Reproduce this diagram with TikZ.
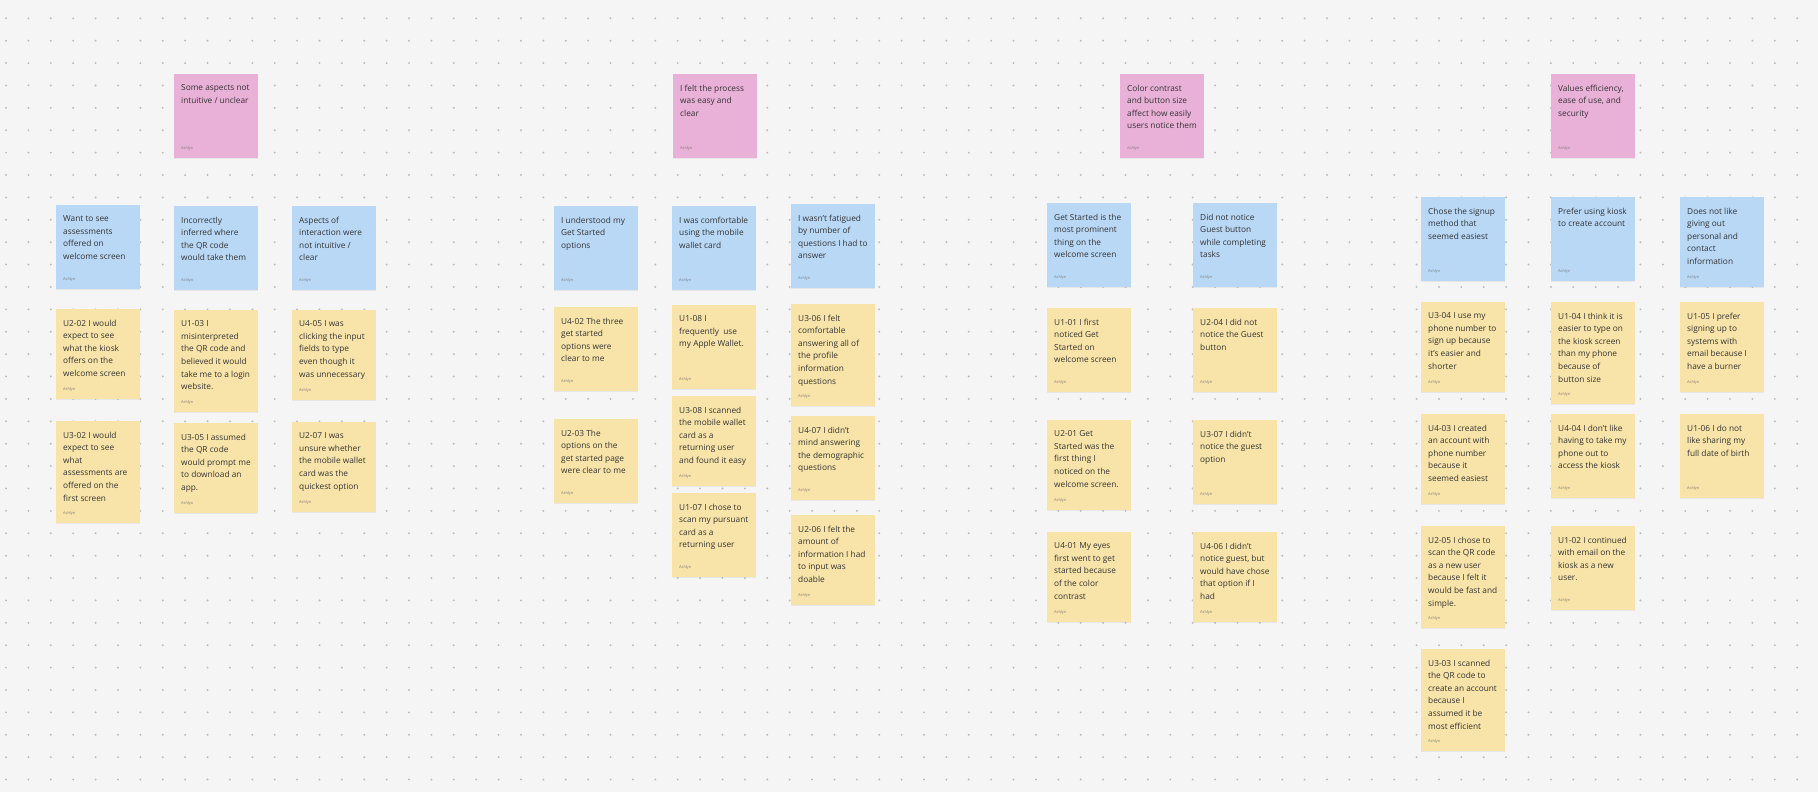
\documentclass[tikz,border=0pt]{standalone}
\usepackage{fontspec}
\setmainfont{Open Sans}
\usetikzlibrary{shadows}
\definecolor{board}{HTML}{F5F5F5}
\definecolor{griddot}{HTML}{BDBDBD}
\definecolor{pinkn}{HTML}{E9B0D8}
\definecolor{bluen}{HTML}{B9D8F6}
\definecolor{yeln}{HTML}{F8E4A9}
\definecolor{ink}{HTML}{333333}
\tikzset{
  note/.style    = {rectangle, anchor=north west, inner sep=0pt, minimum width=84pt,
                    minimum height=84pt,
                    drop shadow={shadow xshift=0pt, shadow yshift=-1.2pt, opacity=0.12}},
  theme/.style   = {note, fill=pinkn},
  insight/.style = {note, fill=bluen},
  quote/.style   = {note, fill=yeln},
  txt/.style     = {anchor=north west, xshift=7pt, yshift=-10.5pt, inner sep=0pt,
                    align=left, text=ink, font=\fontsize{8.3}{12.6}\selectfont},
  who/.style     = {anchor=west, xshift=7pt, yshift=10pt, inner sep=0pt,
                    text=black!50, font=\fontsize{3.9}{4.5}\selectfont},
}

\begin{document}
\begin{tikzpicture}[x=1pt,y=-1pt]
  \useasboundingbox (0,0) rectangle (1818,792);
  \fill[board] (0,0) rectangle (1818,792);
  \foreach \i in {0,...,81}
    \foreach \j in {0,...,34}
      \fill[griddot] (6+22.39*\i,18.3+22.39*\j) circle (1.1pt);

  % themes
  \node[theme] (asp) at (174,74) {};
  \node[txt] at (asp.north west) {Some aspects not\\intuitive / unclear};
  \node[who] at (asp.south west) {Ashlyn};
  \node[theme] (easy) at (673,74) {};
  \node[txt] at (easy.north west) {I felt the process\\was easy and\\clear};
  \node[who] at (easy.south west) {Ashlyn};
  \node[theme] (contr) at (1120,74) {};
  \node[txt] at (contr.north west) {Color contrast\\and button size\\affect how easily\\users notice them};
  \node[who] at (contr.south west) {Ashlyn};
  \node[theme] (effic) at (1551,74) {};
  \node[txt] at (effic.north west) {Values efficiency,\\ease of use, and\\security};
  \node[who] at (effic.south west) {Ashlyn};

  % insights
  \node[insight] (want) at (56,205) {};
  \node[txt] at (want.north west) {Want to see\\assessments\\offered on\\welcome screen};
  \node[who] at (want.south west) {Ashlyn};
  \node[insight] (inferred) at (174,206) {};
  \node[txt] at (inferred.north west) {Incorrectly\\inferred where\\the QR code\\would take them};
  \node[who] at (inferred.south west) {Ashlyn};
  \node[insight] (interact) at (292,206) {};
  \node[txt] at (interact.north west) {Aspects of\\interaction were\\not intuitive /\\clear};
  \node[who] at (interact.south west) {Ashlyn};
  \node[insight] (understood) at (554,206) {};
  \node[txt] at (understood.north west) {I understood my\\Get Started\\options};
  \node[who] at (understood.south west) {Ashlyn};
  \node[insight] (comfy) at (672,206) {};
  \node[txt] at (comfy.north west) {I was comfortable\\using the mobile\\wallet card};
  \node[who] at (comfy.south west) {Ashlyn};
  \node[insight] (fatigue) at (791,204) {};
  \node[txt] at (fatigue.north west) {I wasn't fatigued\\by number of\\questions I had to\\answer};
  \node[who] at (fatigue.south west) {Ashlyn};
  \node[insight] (prominent) at (1047,203) {};
  \node[txt] at (prominent.north west) {Get Started is the\\most prominent\\thing on the\\welcome screen};
  \node[who] at (prominent.south west) {Ashlyn};
  \node[insight] (guestbtn) at (1193,203) {};
  \node[txt] at (guestbtn.north west) {Did not notice\\Guest button\\while completing\\tasks};
  \node[who] at (guestbtn.south west) {Ashlyn};
  \node[insight] (signup) at (1421,197) {};
  \node[txt] at (signup.north west) {Chose the signup\\method that\\seemed easiest};
  \node[who] at (signup.south west) {Ashlyn};
  \node[insight] (kiosk) at (1551,197) {};
  \node[txt] at (kiosk.north west) {Prefer using kiosk\\to create account};
  \node[who] at (kiosk.south west) {Ashlyn};
  \node[insight, minimum height=90pt] (privacy) at (1680,197) {};
  \node[txt] at (privacy.north west) {Does not like\\giving out\\personal and\\contact\\information};
  \node[who] at (privacy.south west) {Ashlyn};

  % quotes
  \node[quote, minimum height=90pt] (u202) at (56,309) {};
  \node[txt] at (u202.north west) {U2-02 I would\\expect to see\\what the kiosk\\offers on the\\welcome screen};
  \node[who] at (u202.south west) {Ashlyn};
  \node[quote, minimum height=102pt] (u302) at (56,421) {};
  \node[txt] at (u302.north west) {U3-02 I would\\expect to see\\what\\assessments are\\offered on the\\first screen};
  \node[who] at (u302.south west) {Ashlyn};
  \node[quote, minimum height=102pt] (u103) at (174,310) {};
  \node[txt] at (u103.north west) {U1-03 I\\misinterpreted\\the QR code and\\believed it would\\take me to a login\\website.};
  \node[who] at (u103.south west) {Ashlyn};
  \node[quote, minimum height=90pt] (u305) at (174,423) {};
  \node[txt] at (u305.north west) {U3-05 I assumed\\the QR code\\would prompt me\\to download an\\app.};
  \node[who] at (u305.south west) {Ashlyn};
  \node[quote, minimum height=90pt] (u405) at (292,310) {};
  \node[txt] at (u405.north west) {U4-05 I was\\clicking the input\\fields to type\\even though it\\was unnecessary};
  \node[who] at (u405.south west) {Ashlyn};
  \node[quote, minimum height=90pt] (u207) at (292,422) {};
  \node[txt] at (u207.north west) {U2-07 I was\\unsure whether\\the mobile wallet\\card was the\\quickest option};
  \node[who] at (u207.south west) {Ashlyn};

  \node[quote] (u402) at (554,307) {};
  \node[txt] at (u402.north west) {U4-02 The three\\get started\\options were\\clear to me};
  \node[who] at (u402.south west) {Ashlyn};
  \node[quote] (u203) at (554,419) {};
  \node[txt] at (u203.north west) {U2-03 The\\options on the\\get started page\\were clear to me};
  \node[who] at (u203.south west) {Ashlyn};
  \node[quote] (u108) at (672,305) {};
  \node[txt] at (u108.north west) {U1-08 I\\frequently\ \ use\\my Apple Wallet.};
  \node[who] at (u108.south west) {Ashlyn};
  \node[quote, minimum height=90pt] (u308) at (672,396) {};
  \node[txt] at (u308.north west) {U3-08 I scanned\\the mobile wallet\\card as a\\returning user\\and found it easy};
  \node[who] at (u308.south west) {Ashlyn};
  \node[quote] (u107) at (672,493) {};
  \node[txt] at (u107.north west) {U1-07 I chose to\\scan my pursuant\\card as a\\returning user};
  \node[who] at (u107.south west) {Ashlyn};
  \node[quote, minimum height=102pt] (u306) at (791,304) {};
  \node[txt] at (u306.north west) {U3-06 I felt\\comfortable\\answering all of\\the profile\\information\\questions};
  \node[who] at (u306.south west) {Ashlyn};
  \node[quote] (u407) at (791,416) {};
  \node[txt] at (u407.north west) {U4-07 I didn't\\mind answering\\the demographic\\questions};
  \node[who] at (u407.south west) {Ashlyn};
  \node[quote, minimum height=90pt] (u206) at (791,515) {};
  \node[txt] at (u206.north west) {U2-06 I felt the\\amount of\\information I had\\to input was\\doable};
  \node[who] at (u206.south west) {Ashlyn};

  \node[quote] (u101) at (1047,308) {};
  \node[txt] at (u101.north west) {U1-01 I first\\noticed Get\\Started on\\welcome screen};
  \node[who] at (u101.south west) {Ashlyn};
  \node[quote, minimum height=90pt] (u201) at (1047,420) {};
  \node[txt] at (u201.north west) {U2-01 Get\\Started was the\\first thing I\\noticed on the\\welcome screen.};
  \node[who] at (u201.south west) {Ashlyn};
  \node[quote, minimum height=90pt] (u401) at (1047,532) {};
  \node[txt] at (u401.north west) {U4-01 My eyes\\first went to get\\started because\\of the color\\contrast};
  \node[who] at (u401.south west) {Ashlyn};
  \node[quote] (u204) at (1193,308) {};
  \node[txt] at (u204.north west) {U2-04 I did not\\notice the Guest\\button};
  \node[who] at (u204.south west) {Ashlyn};
  \node[quote] (u307) at (1193,420) {};
  \node[txt] at (u307.north west) {U3-07 I didn't\\notice the guest\\option};
  \node[who] at (u307.south west) {Ashlyn};
  \node[quote, minimum height=90pt] (u406) at (1193,532) {};
  \node[txt] at (u406.north west) {U4-06 I didn't\\notice guest, but\\would have chose\\that option if I\\had};
  \node[who] at (u406.south west) {Ashlyn};

  \node[quote, minimum height=90pt] (u304) at (1421,302) {};
  \node[txt] at (u304.north west) {U3-04 I use my\\phone number to\\sign up because\\it's easier and\\shorter};
  \node[who] at (u304.south west) {Ashlyn};
  \node[quote, minimum height=90pt] (u403) at (1421,414) {};
  \node[txt] at (u403.north west) {U4-03 I created\\an account with\\phone number\\because it\\seemed easiest};
  \node[who] at (u403.south west) {Ashlyn};
  \node[quote, minimum height=102pt] (u205) at (1421,526) {};
  \node[txt] at (u205.north west) {U2-05 I chose to\\scan the QR code\\as a new user\\because I felt it\\would be fast and\\simple.};
  \node[who] at (u205.south west) {Ashlyn};
  \node[quote, minimum height=102pt] (u303) at (1421,649) {};
  \node[txt] at (u303.north west) {U3-03 I scanned\\the QR code to\\create an account\\because I\\assumed it be\\most efficient};
  \node[who] at (u303.south west) {Ashlyn};
  \node[quote, minimum height=102pt] (u104) at (1551,302) {};
  \node[txt] at (u104.north west) {U1-04 I think it is\\easier to type on\\the kiosk screen\\than my phone\\because of\\button size};
  \node[who] at (u104.south west) {Ashlyn};
  \node[quote] (u404) at (1551,414) {};
  \node[txt] at (u404.north west) {U4-04 I don't like\\having to take my\\phone out to\\access the kiosk};
  \node[who] at (u404.south west) {Ashlyn};
  \node[quote] (u102) at (1551,526) {};
  \node[txt] at (u102.north west) {U1-02 I continued\\with email on the\\kiosk as a new\\user.};
  \node[who] at (u102.south west) {Ashlyn};
  \node[quote, minimum height=90pt] (u105) at (1680,302) {};
  \node[txt] at (u105.north west) {U1-05 I prefer\\signing up to\\systems with\\email because I\\have a burner};
  \node[who] at (u105.south west) {Ashlyn};
  \node[quote] (u106) at (1680,414) {};
  \node[txt] at (u106.north west) {U1-06 I do not\\like sharing my\\full date of birth};
  \node[who] at (u106.south west) {Ashlyn};
\end{tikzpicture}
\end{document}
